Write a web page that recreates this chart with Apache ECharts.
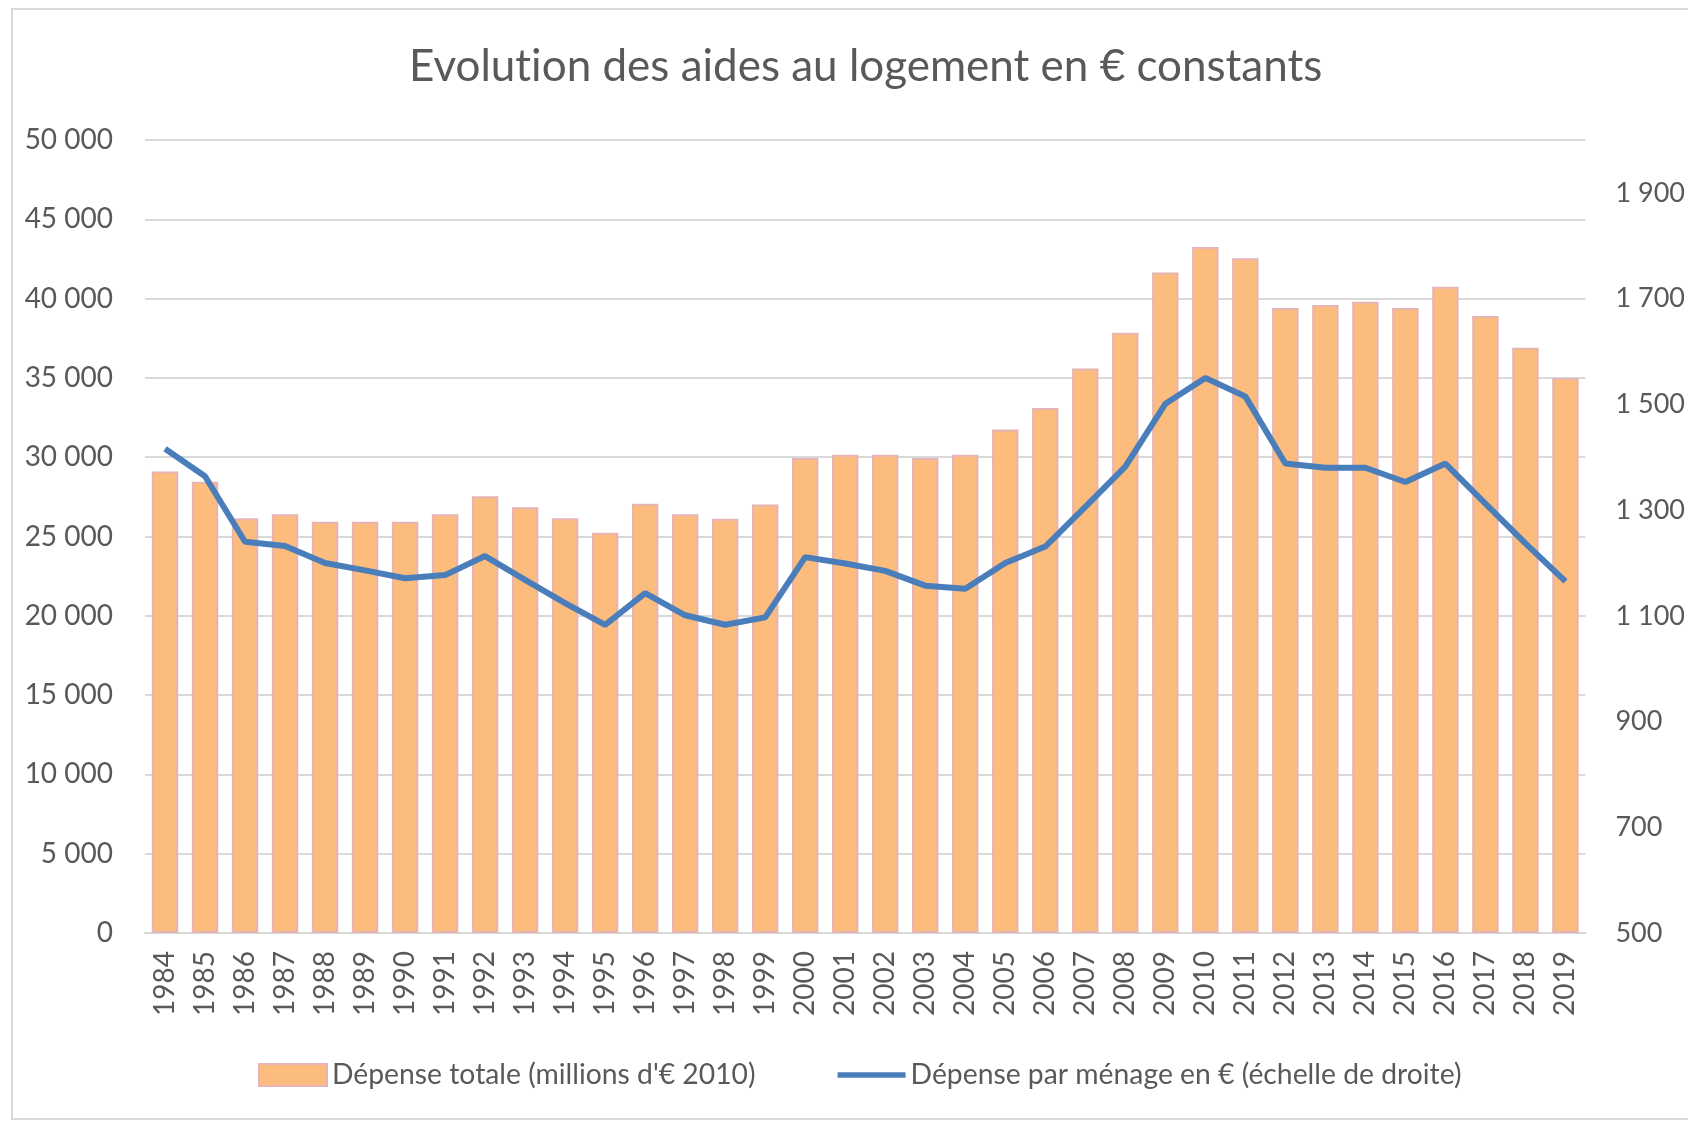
<!DOCTYPE html>
<html>
<head>
<meta charset="utf-8">
<script src="https://cdn.jsdelivr.net/npm/echarts@6/dist/echarts.min.js"></script>
<style>
  html, body { margin: 0; padding: 0; background: #fff; }
  #chart { width: 1688px; height: 1122px; }
</style>
</head>
<body>
<div id="chart"></div>
<script>
// années
var annees = ['1984','1985','1986','1987','1988','1989','1990','1991','1992','1993',
  '1994','1995','1996','1997','1998','1999','2000','2001','2002','2003',
  '2004','2005','2006','2007','2008','2009','2010','2011','2012','2013',
  '2014','2015','2016','2017','2018','2019'];

// dépense totale, millions d'€ 2010 (axe de gauche)
var depenseTotale = [29100, 28450, 26150, 26400, 25930, 25930, 25930, 26400, 27540, 26840,
  26150, 25230, 27070, 26400, 26120, 27020, 29950, 30150, 30150, 29950,
  30150, 31750, 33100, 35600, 37850, 41650, 43250, 42550, 39400, 39600,
  39800, 39400, 40750, 38900, 36900, 35000];

// dépense par ménage en € (axe de droite)
var depenseMenage = [1416, 1364, 1240, 1232, 1200, 1186, 1171, 1177, 1213, 1168,
  1124, 1083, 1143, 1101, 1083, 1097, 1211, 1199, 1185, 1157,
  1151, 1200, 1231, 1306, 1382, 1501, 1550, 1515, 1388, 1380,
  1380, 1353, 1388, 1312, 1237, 1165];

var nomBarres = "Dépense totale (millions d'€ 2010)";
var nomLigne = "Dépense par ménage en € (échelle de droite)";

var police = 'Lato';
var gris = '#595959';

function milliers(v) {
  return String(v).replace(/\B(?=(\d{3})+(?!\d))/g, ' ');
}

var myChart = echarts.init(document.getElementById('chart'));

var option = {
  animation: false,
  backgroundColor: '#fff',
  textStyle: { fontFamily: police, color: gris },
  title: {
    // \u200C : évite la ligature "ti" de Lato
    text: 'Evolut\u200Cion des aides au logement en € constants',
    left: 404,
    top: 40,
    textStyle: { fontFamily: police, fontSize: 44, fontWeight: 'normal', color: gris }
  },
  graphic: [{
    type: 'rect',
    shape: { x: 12, y: 9, width: 1700, height: 1110 },
    style: { fill: 'none', stroke: '#d9d9d9', lineWidth: 2 },
    silent: true
  }],
  legend: {
    left: 253,
    top: 1056,
    itemWidth: 68,
    itemHeight: 22,
    itemGap: 82,
    textStyle: { fontFamily: police, fontSize: 28.3, color: gris },
    data: [
      { name: nomBarres, icon: 'rect' },
      { name: nomLigne, icon: 'path://M0,0 M72,22 M0,8 L72,8 L72,14 L0,14 Z',
        itemStyle: { color: '#4A7EBB', borderWidth: 0 } }
    ]
  },
  grid: {
    left: 145,
    right: 92,
    top: 140,
    bottom: 189,
    containLabel: false
  },
  xAxis: {
    type: 'category',
    data: annees,
    axisLine: { show: true, lineStyle: { color: '#d9d9d9', width: 2 } },
    axisTick: { show: false },
    axisLabel: {
      interval: 0,
      rotate: 90,
      margin: 18,
      fontFamily: police,
      fontSize: 28,
      color: gris
    }
  },
  yAxis: [
    {
      type: 'value',
      min: 0,
      max: 50000,
      interval: 5000,
      axisLine: { show: false },
      axisTick: { show: false },
      splitLine: { lineStyle: { color: '#d9d9d9', width: 2 } },
      axisLabel: {
        margin: 32,
        fontFamily: police,
        fontSize: 28,
        color: gris,
        formatter: milliers
      }
    },
    {
      type: 'value',
      min: 500,
      max: 2000,
      interval: 200,
      position: 'right',
      axisLine: { show: false },
      axisTick: { show: false },
      splitLine: { show: false },
      axisLabel: {
        margin: 30,
        showMaxLabel: false,
        fontFamily: police,
        fontSize: 27,
        color: gris,
        formatter: milliers
      }
    }
  ],
  series: [
    {
      name: nomBarres,
      type: 'bar',
      yAxisIndex: 0,
      data: depenseTotale,
      barCategoryGap: '34%',
      itemStyle: { color: '#FBBC7E', borderColor: '#E6B4B4', borderWidth: 2 }
    },
    {
      name: nomLigne,
      type: 'line',
      yAxisIndex: 1,
      data: depenseMenage,
      symbol: 'none',
      lineStyle: { color: '#4A7EBB', width: 6 },
      itemStyle: { color: '#4A7EBB' }
    }
  ]
};

myChart.setOption(option);
</script>
</body>
</html>
